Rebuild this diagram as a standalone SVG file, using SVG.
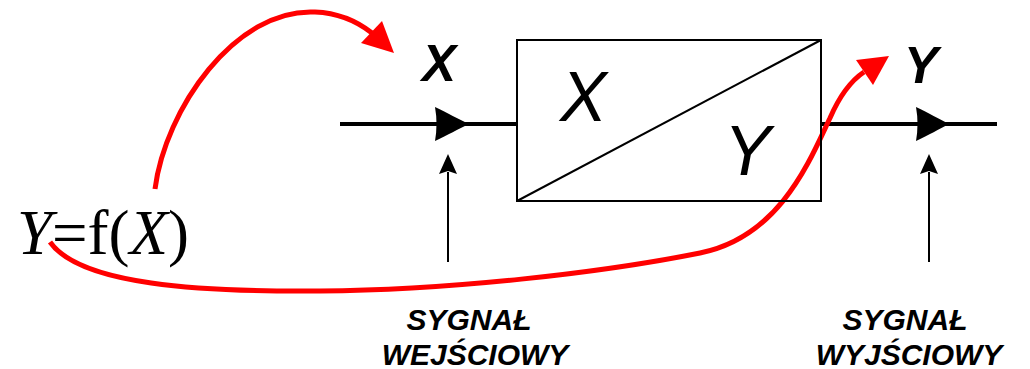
<svg xmlns="http://www.w3.org/2000/svg" width="1030" height="369" viewBox="0 0 1030 369">
<style>
.thick{stroke:#000;stroke-width:4;fill:none}
.thin{stroke:#000;stroke-width:2;fill:none}
.red{stroke:#ff0000;stroke-width:5;fill:none}
.redhead{fill:#ff0000}
.head{fill:#000}
.lbl{font-family:"Liberation Sans",Arial,sans-serif;font-weight:bold;font-style:italic;fill:#000}
.box{font-family:"Liberation Sans",Arial,sans-serif;font-style:italic;fill:#000;font-size:70px}
.formula{font-family:"Liberation Serif","Times New Roman",serif;font-size:63px;fill:#000}
</style>
<g id="connectors">
<line class="thick" x1="340" y1="124" x2="517" y2="124"/>
<path class="head" d="M435,107 C448,113 458,119 469,124 C458,129 448,135 435,141 Q438,124 435,107 Z"/>
<line class="thick" x1="821" y1="124" x2="997" y2="124"/>
<path class="head" d="M916,107 C929,113 939,119 949,124 C939,129 929,135 916,141 Q919,124 916,107 Z"/>
<line class="thin" x1="448" y1="262" x2="448" y2="172"/>
<polygon class="head" points="439,174 448,154 457,174 448,171"/>
<line class="thin" x1="929" y1="262" x2="929" y2="172"/>
<polygon class="head" points="920,174 929,154 938,174 929,171"/>
<path class="red" d="M155,189 C165,110 235,8 315,12 C340,13 358,22 372,33"/>
<polygon class="redhead" points="361,43 382,21 394,53"/>
<path class="red" d="M50,242 C80,285 200,292 320,291 C450,290 600,273 700,253 C780,237 810,160 830,118 C840,95 852,80 864,72"/>
<polygon class="redhead" points="856,60 889,56 873,85"/>
</g>
<g id="block">
<rect x="517" y="40" width="304" height="161" fill="none" stroke="#000" stroke-width="2"/>
<line class="thin" x1="517" y1="201" x2="821" y2="40"/>
<text class="box" x="560" y="121">X</text>
<text class="box" x="724" y="175">Y</text>
</g>
<g id="input-label">
<text class="lbl" x="422" y="81" font-size="51">X</text>
<text class="lbl" x="469" y="330" font-size="30" text-anchor="middle">SYGNAŁ</text>
<text class="lbl" x="475" y="365" font-size="30" text-anchor="middle">WEJŚCIOWY</text>
</g>
<g id="output-label">
<text class="lbl" x="904" y="83" font-size="51">Y</text>
<text class="lbl" x="905" y="330" font-size="30" text-anchor="middle">SYGNAŁ</text>
<text class="lbl" x="909" y="365" font-size="30" text-anchor="middle">WYJŚCIOWY</text>
</g>
<g id="formula">
<text class="formula" x="17" y="254"><tspan font-style="italic">Y</tspan>=f(<tspan font-style="italic">X</tspan>)</text>
</g>
</svg>
